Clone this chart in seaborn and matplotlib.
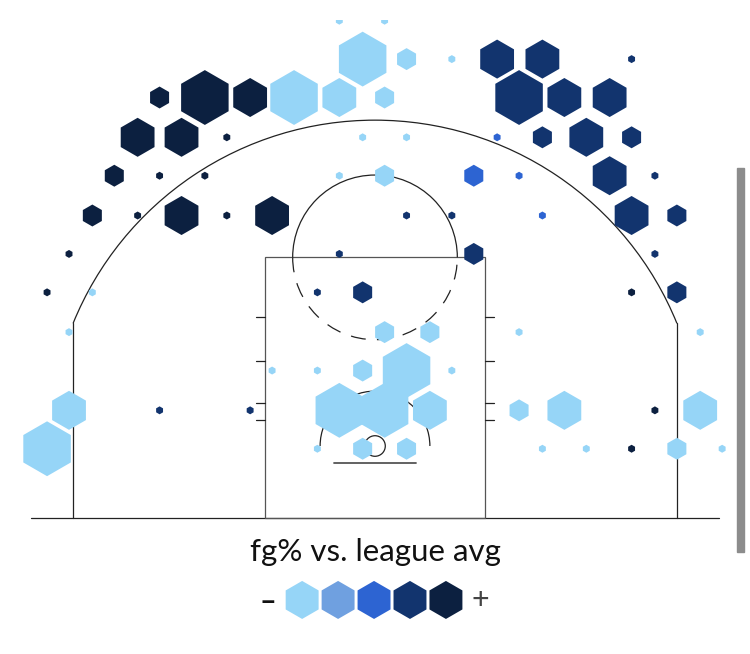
import numpy as np
import pandas as pd
import matplotlib
matplotlib.use("Agg")
import matplotlib.pyplot as plt
from matplotlib.patches import Arc, Rectangle, Circle
import seaborn as sns

# --- DATA : hex centres in tenths of feet (basket at 0,0) ---
# freq      : 1 = very few attempts ... 4 = a lot of attempts
# fg_level  : 1 = well below league avg ... 5 = well above
loc_x = [
    -26, 7,
    -9, 23, 56, 89, 122, 187,
    -157, -124, -91, -59, -26, 7, 105, 138, 171,
    -173, -141, -108, -9, 23, 89, 122, 154, 187,
    -190, -157, -124, -26, 7, 72, 105, 171, 204,
    -206, -173, -141, -108, -75, 23, 56, 122, 187, 220,
    -223, -26, 72, 204,
    -239, -206, -42, -9, 187, 220,
    -223, 7, 40, 105, 237,
    -75, -42, -9, 23, 56,
    -223, -157, -91, -26, 7, 40, 105, 138, 204, 237,
    -239, -42, -9, 23, 122, 154, 187, 220, 253,
]
loc_y = (
    [310] * 2 + [282] * 6 + [254] * 9 + [225] * 9 + [197] * 9
    + [168] * 10 + [140] * 4 + [112] * 6 + [83] * 5 + [55] * 5
    + [26] * 10 + [-2] * 9
)
freq = [
    1, 1,
    4, 2, 1, 3, 3, 1,
    2, 4, 3, 4, 3, 2, 4, 3, 3,
    3, 3, 1, 1, 1, 1, 2, 3, 2,
    2, 1, 1, 1, 2, 2, 1, 3, 1,
    2, 1, 3, 1, 3, 1, 1, 1, 3, 2,
    1, 1, 2, 1,
    1, 1, 1, 2, 1, 2,
    1, 2, 2, 1, 1,
    1, 1, 2, 4, 1,
    3, 1, 1, 4, 4, 3, 2, 3, 1, 3,
    4, 1, 2, 2, 1, 1, 1, 2, 1,
]
fg_level = [
    1, 1,
    1, 1, 1, 4, 4, 4,
    5, 5, 5, 1, 1, 1, 4, 4, 4,
    5, 5, 5, 1, 1, 3, 4, 4, 4,
    5, 5, 5, 1, 1, 3, 3, 4, 4,
    5, 5, 5, 5, 5, 4, 4, 3, 4, 4,
    5, 4, 4, 4,
    5, 1, 4, 4, 5, 4,
    1, 1, 1, 1, 1,
    1, 1, 1, 1, 1,
    1, 4, 4, 1, 1, 1, 1, 1, 5, 1,
    1, 1, 1, 1, 1, 1, 5, 1, 1,
]

levels = [1, 2, 3, 4, 5]
level_colors = ["#96D5F7", "#6FA0E0", "#2D64D2", "#12346E", "#0C2040"]
freq_sizes = {1: 33, 2: 250, 3: 790, 4: 1560}   # marker area (pt^2)

df = pd.DataFrame({"loc_x": loc_x, "loc_y": loc_y,
                   "freq": freq, "fg_level": fg_level})

sns.set_style("white")
plt.rcParams["font.family"] = ["Lato", "DejaVu Sans"]

fig = plt.figure(figsize=(7.5, 6.54), dpi=100)
ax = fig.add_axes([0, 0, 1, 634 / 654])

# --- court lines ---
lc = "#222222"
lw = 0.9
ax.plot([-251, 251], [-52.5, -52.5], color=lc, lw=lw, zorder=1)
ax.plot([-220, -220], [-52.5, 89.5], color=lc, lw=lw, zorder=1)
ax.plot([220, 220], [-52.5, 89.5], color=lc, lw=lw, zorder=1)
ax.add_patch(Arc((0, 0), 475, 475, theta1=22.1, theta2=157.9, color=lc, lw=lw, zorder=1))
ax.add_patch(Rectangle((-80, -52.5), 160, 190, fill=False, ec="#555555", lw=lw, zorder=1))
ax.add_patch(Arc((0, 137.5), 120, 120, theta1=0, theta2=180, color=lc, lw=lw, zorder=1))
ax.add_patch(Arc((0, 137.5), 120, 120, theta1=180, theta2=360, color=lc, lw=lw,
                 linestyle=(0, (12, 9)), zorder=1))
ax.add_patch(Arc((0, 0), 80, 80, theta1=0, theta2=180, color=lc, lw=lw, zorder=1))
ax.add_patch(Circle((0, 0), 7.5, fill=False, ec=lc, lw=lw, zorder=1))
ax.plot([-30, 30], [-12.5, -12.5], color="#555555", lw=1.3, zorder=1)
for hy in [19, 31, 62, 94]:
    ax.plot([-87, -80], [hy, hy], color=lc, lw=lw, zorder=1)
    ax.plot([80, 87], [hy, hy], color=lc, lw=lw, zorder=1)

# --- hexes ---
sns.scatterplot(data=df, x="loc_x", y="loc_y", hue="fg_level", hue_order=levels,
                palette=dict(zip(levels, level_colors)), size="freq",
                sizes=freq_sizes, marker="h", linewidth=0, legend=False,
                zorder=3, ax=ax)
ax.set_xlim(-273.3, 273.3)
ax.set_ylim(-151.6, 310.5)
ax.axis("off")

# --- colour legend ---
ax.text(0, -77.5, "fg% vs. league avg", ha="center", va="center",
        fontsize=22.5, color="#111111")
leg_x = (np.arange(len(levels)) - 2) * 26.2 - 0.7
ax.scatter(leg_x, [-112.2] * len(levels), s=750, marker="h",
           c=level_colors, linewidths=0, zorder=3)
ax.text(-78, -113.5, "–", ha="center", va="center", fontsize=21,
        fontweight="bold", color="#111111")
ax.text(76.5, -112.0, "+", ha="center", va="center", fontsize=22,
        color="#444444")

# scrollbar of the screenshot
fig.patches.append(Rectangle((737 / 750, 1 - 552 / 654), 7 / 750, 384 / 654,
                             transform=fig.transFigure, color="#8c8c8c"))

fig.savefig("out.png", dpi=100)
